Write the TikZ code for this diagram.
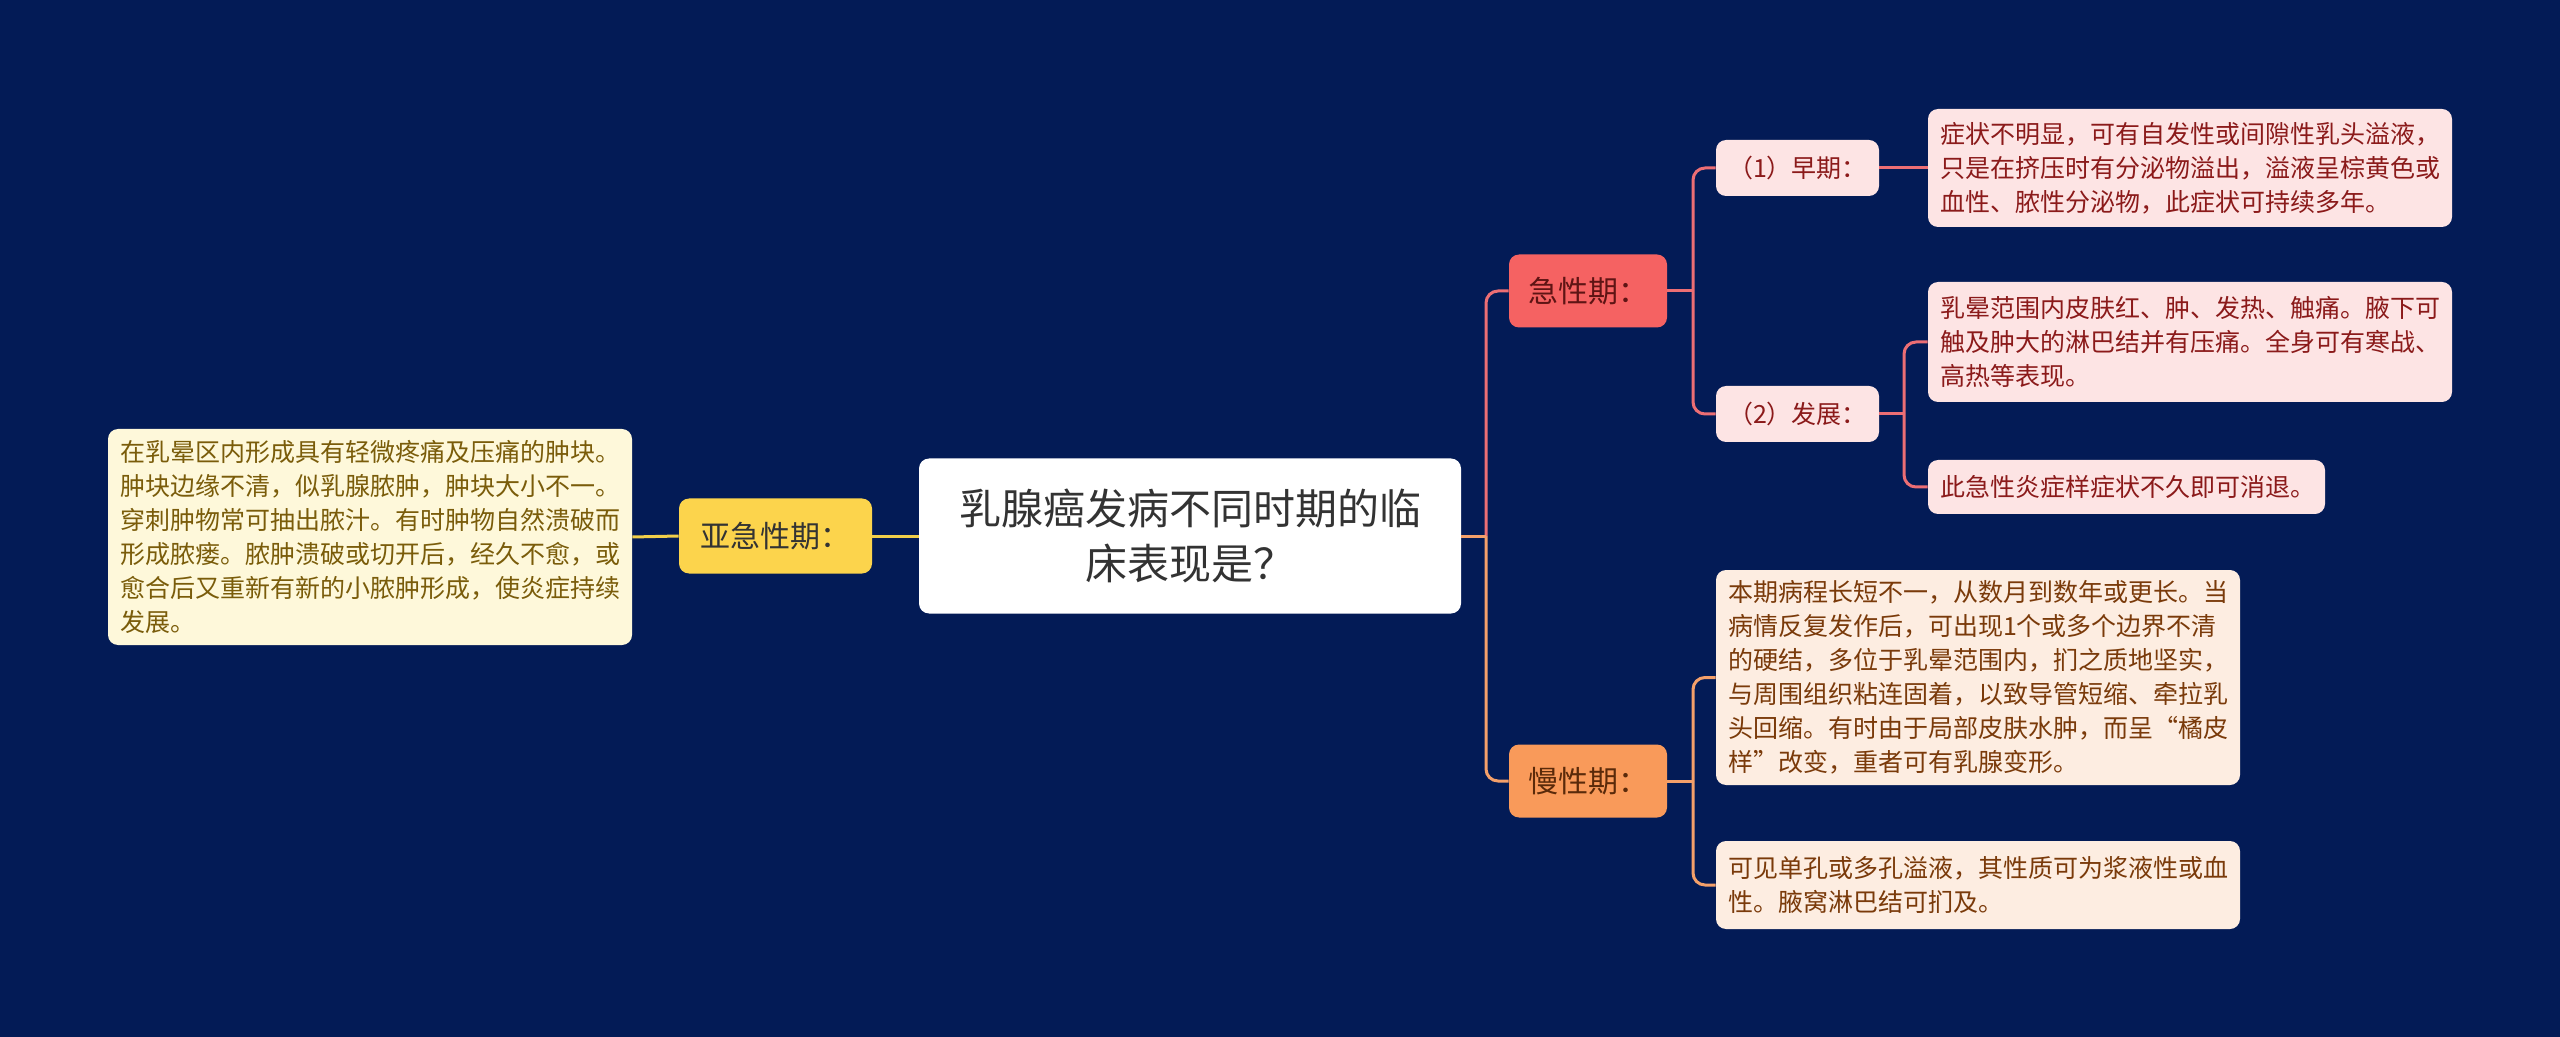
\documentclass[tikz,border=0pt]{standalone}
\usepackage{fontspec}
\setmainfont{Noto Sans CJK SC}
\definecolor{bg}{HTML}{031B56}
\definecolor{yline}{HTML}{F1CF4A}
\definecolor{cline}{HTML}{EC6E74}
\definecolor{oline}{HTML}{F4A06A}
\definecolor{subfill}{HTML}{FCD44C}
\definecolor{lyfill}{HTML}{FEF8DA}
\definecolor{lytext}{HTML}{7A5C0A}
\definecolor{acfill}{HTML}{F56262}
\definecolor{actext}{HTML}{5E1414}
\definecolor{pkfill}{HTML}{FDE4E4}
\definecolor{pktext}{HTML}{8B1A1A}
\definecolor{chfill}{HTML}{F99A5A}
\definecolor{chtext}{HTML}{5A2A0A}
\definecolor{pcfill}{HTML}{FDEDE1}
\definecolor{pctext}{HTML}{7A3A0A}
\definecolor{roottext}{HTML}{333333}
\tikzset{
  box/.style={rounded corners=5pt, inner sep=0pt, align=center},
  leaf/.style={box, align=left, inner xsep=6pt, inner ysep=0pt,
    font=\fontsize{12.5pt}{17pt}\selectfont},
  lvone/.style={box, minimum width=79pt, minimum height=36.5pt,
    font=\fontsize{15pt}{18pt}\selectfont},
  lvtwo/.style={box, fill=pkfill, text=pktext, minimum width=81.5pt, minimum height=28pt,
    font=\fontsize{12.5pt}{15pt}\selectfont},
  conn/.style={line width=1.5pt, rounded corners=6pt},
}
\begin{document}
\begin{tikzpicture}[x=0.5pt, y=-0.5pt]
\fill[bg] (0,0) rectangle (2560,1037);
\useasboundingbox (0,0) rectangle (2560,1037);

% nodes
\node[box, fill=white, text=roottext, minimum width=271pt, minimum height=77.5pt,
  font=\fontsize{21pt}{27.8pt}\selectfont] (root) at (1190,536)
  {乳腺癌发病不同时期的临\\床表现是？};
\node[box, fill=subfill, text=roottext, minimum width=96.5pt, minimum height=37.5pt,
  font=\fontsize{15pt}{18pt}\selectfont] (sub) at (775.5,536) {亚急性期：};
\node[leaf, fill=lyfill, text=lytext, text width=250pt, minimum height=108pt] (left) at (370,537)
  {在乳晕区内形成具有轻微疼痛及压痛的肿块。\\肿块边缘不清，似乳腺脓肿，肿块大小不一。\\穿刺肿物常可抽出脓汁。有时肿物自然溃破而\\形成脓瘘。脓肿溃破或切开后，经久不愈，或\\愈合后又重新有新的小脓肿形成，使炎症持续\\发展。};

\node[lvone, fill=acfill, text=actext] (acute) at (1588,291) {急性期：};
\node[lvone, fill=chfill, text=chtext] (chronic) at (1588,781) {慢性期：};

\node[lvtwo] (early) at (1797.5,168) {（1）早期：};
\node[lvtwo] (dev) at (1797.5,414) {（2）发展：};

\node[leaf, fill=pkfill, text=pktext, text width=250pt, minimum height=59pt] (earlyleaf) at (2190,168)
  {症状不明显，可有自发性或间隙性乳头溢液，\\只是在挤压时有分泌物溢出，溢液呈棕黄色或\\血性、脓性分泌物，此症状可持续多年。};
\node[leaf, fill=pkfill, text=pktext, text width=250pt, minimum height=60pt] (devleafa) at (2190,342)
  {乳晕范围内皮肤红、肿、发热、触痛。腋下可\\触及肿大的淋巴结并有压痛。全身可有寒战、\\高热等表现。};
\node[leaf, fill=pkfill, text=pktext, text width=186.5pt, minimum height=27pt] (devleafb) at (2126.5,487)
  {此急性炎症样症状不久即可消退。};

\node[leaf, fill=pcfill, text=pctext, text width=250pt, minimum height=107.5pt] (chrona) at (1978,677.5)
  {本期病程长短不一，从数月到数年或更长。当\\病情反复发作后，可出现1个或多个边界不清\\的硬结，多位于乳晕范围内，扪之质地坚实，\\与周围组织粘连固着，以致导管短缩、牵拉乳\\头回缩。有时由于局部皮肤水肿，而呈“橘皮\\样”改变，重者可有乳腺变形。};
\node[leaf, fill=pcfill, text=pctext, text width=250pt, minimum height=44pt] (chronb) at (1978,885)
  {可见单孔或多孔溢液，其性质可为浆液性或血\\性。腋窝淋巴结可扪及。};

% branch points
\coordinate (b1) at (1486,536);
\coordinate (b2) at (1693,291);
\coordinate (b3) at (1904,414);
\coordinate (b4) at (1693,781);

% connectors
\draw[conn, yline] (root.west) -- (sub.east);
\draw[conn, yline] (sub.west) -- (left.east);
\draw[conn, oline] (b1) |- (chronic.west);
\draw[conn, cline] (b1) |- (acute.west);
\draw[conn, oline] (root.east) -- (b1);
\draw[conn, cline] (acute.east) -- (b2);
\draw[conn, cline] (b2) |- (early.west);
\draw[conn, cline] (b2) |- (dev.west);
\draw[conn, cline] (early.east) -- (earlyleaf.west);
\draw[conn, cline] (dev.east) -- (b3);
\draw[conn, cline] (b3) |- (devleafa.west);
\draw[conn, cline] (b3) |- (devleafb.west);
\draw[conn, oline] (chronic.east) -- (b4);
\draw[conn, oline] (b4) |- (chrona.west);
\draw[conn, oline] (b4) |- (chronb.west);
\end{tikzpicture}
\end{document}
